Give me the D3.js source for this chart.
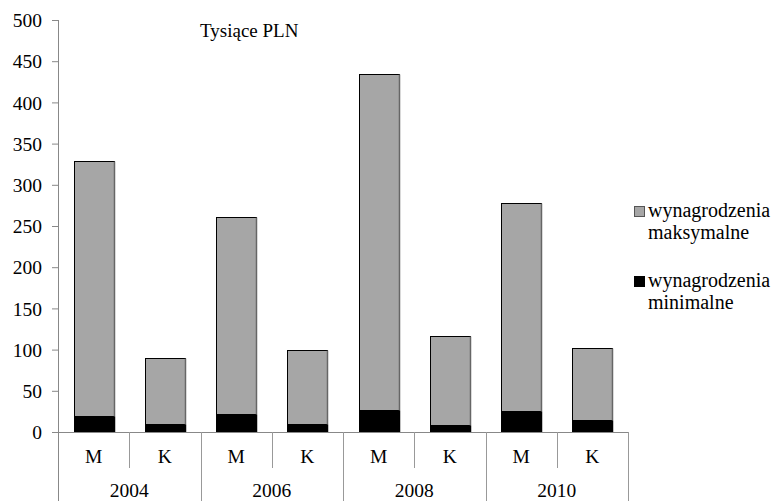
<!DOCTYPE html>
<html>
<head>
<meta charset="utf-8">
<script src="https://cdn.jsdelivr.net/npm/d3@7"></script>
<style>
  html, body { margin: 0; padding: 0; background: #fff; }
</style>
</head>
<body>
<svg id="chart" width="773" height="501"></svg>
<script>
// Salary data in thousands of PLN, by year and gender (M = men, K = women)
const years = ["2004", "2006", "2008", "2010"];
const genders = ["M", "K"];
const categories = ["2004-M", "2004-K", "2006-M", "2006-K", "2008-M", "2008-K", "2010-M", "2010-K"];
const minimalne = [20, 10, 22, 10, 27, 8, 25, 15];
const maksymalne = [309, 80, 239, 89, 407, 109, 253, 87];
const yTicks = [0, 50, 100, 150, 200, 250, 300, 350, 400, 450, 500];
const seriesNames = ["wynagrodzenia maksymalne", "wynagrodzenia minimalne"];
const seriesColors = ["#a6a6a6", "#000000"];

const FONT = "'Liberation Serif', 'Times New Roman', Times, serif";

const svg = d3.select("#chart");
const plotLeft = 58, plotRight = 628, plotTop = 20, plotBottom = 432;

const x = d3.scaleBand().domain(categories).range([plotLeft, plotRight]).padding(0);
const y = d3.scaleLinear().domain([0, 500]).range([plotBottom, plotTop]);
const barW = x.bandwidth() * 0.56;

// Y axis
const yAxis = d3.axisLeft(y).tickValues(yTicks).tickSize(6).tickPadding(10);
const gy = svg.append("g").attr("transform", `translate(${plotLeft},0)`).call(yAxis)
  .attr("font-family", FONT).attr("font-size", 19.5);
gy.select(".domain").remove();
gy.selectAll(".tick line").attr("stroke", "#888");
gy.selectAll(".tick text").attr("fill", "#000").attr("dy", "0.34em");
svg.append("line").attr("x1", plotLeft + 0.5).attr("x2", plotLeft + 0.5).attr("y1", plotTop).attr("y2", 501)
  .attr("stroke", "#888").attr("stroke-width", 1);

// Stacked bars
const stackData = categories.map((c, i) => ({ cat: c, min: minimalne[i], max: maksymalne[i] }));
const stack = d3.stack().keys(["min", "max"])(stackData);

const bars = svg.append("g");
stack.forEach((layer, li) => {
  layer.forEach(d => {
    const cx = x(d.data.cat) + x.bandwidth() / 2;
    const x0 = Math.round(cx - barW / 2) + 0.5;
    const yt = Math.round(y(d[1])) + 0.5;
    const yb = Math.round(y(d[0])) + 0.5;
    bars.append("rect")
      .attr("x", x0).attr("y", yt)
      .attr("width", Math.round(barW)).attr("height", yb - yt)
      .attr("fill", li === 0 ? seriesColors[1] : seriesColors[0])
      .attr("stroke", "#000").attr("stroke-width", 1);
    // shaded right edge
    bars.append("line")
      .attr("x1", x0 + Math.round(barW)).attr("x2", x0 + Math.round(barW))
      .attr("y1", yt).attr("y2", yb)
      .attr("stroke", li === 0 ? "#000" : "#666").attr("stroke-width", 1.5);
  });
});

// X axis baseline
svg.append("line").attr("x1", plotLeft).attr("x2", plotRight).attr("y1", plotBottom + 0.5).attr("y2", plotBottom + 0.5)
  .attr("stroke", "#888");

const labels = svg.append("g").attr("font-family", FONT).attr("font-size", 19.5).attr("fill", "#000");

// Category separators: short between genders, long between years
categories.forEach((c, i) => {
  const xr = Math.round(x(c) + x.bandwidth()) + 0.5;
  const long = i % 2 === 1;
  svg.append("line").attr("x1", xr).attr("x2", xr)
    .attr("y1", plotBottom).attr("y2", long ? 501 : 468)
    .attr("stroke", "#999");
  labels.append("text")
    .attr("x", x(c) + x.bandwidth() / 2).attr("y", 463)
    .attr("text-anchor", "middle")
    .text(genders[i % 2]);
});
years.forEach((yr, i) => {
  const cx = x(categories[2 * i]) + x.bandwidth();
  labels.append("text")
    .attr("x", cx).attr("y", 497)
    .attr("text-anchor", "middle")
    .text(yr);
});

// Unit label
labels.append("text").attr("x", 200).attr("y", 37).attr("font-size", 19).text("Tysiące PLN");

// Legend
const legend = svg.append("g").attr("font-family", FONT).attr("font-size", 20).attr("fill", "#000");
const legendY = [206, 276];
seriesNames.forEach((name, i) => {
  const words = name.split(" ");
  legend.append("rect")
    .attr("x", 634.5).attr("y", legendY[i] + 0.5).attr("width", 10).attr("height", 10)
    .attr("fill", seriesColors[i]).attr("stroke", i === 0 ? "#555" : "#000");
  const t = legend.append("text").attr("x", 648).attr("y", legendY[i] + 11);
  t.append("tspan").attr("x", 648).text(words[0]);
  t.append("tspan").attr("x", 648).attr("dy", 22).text(words[1]);
});
</script>
</body>
</html>
